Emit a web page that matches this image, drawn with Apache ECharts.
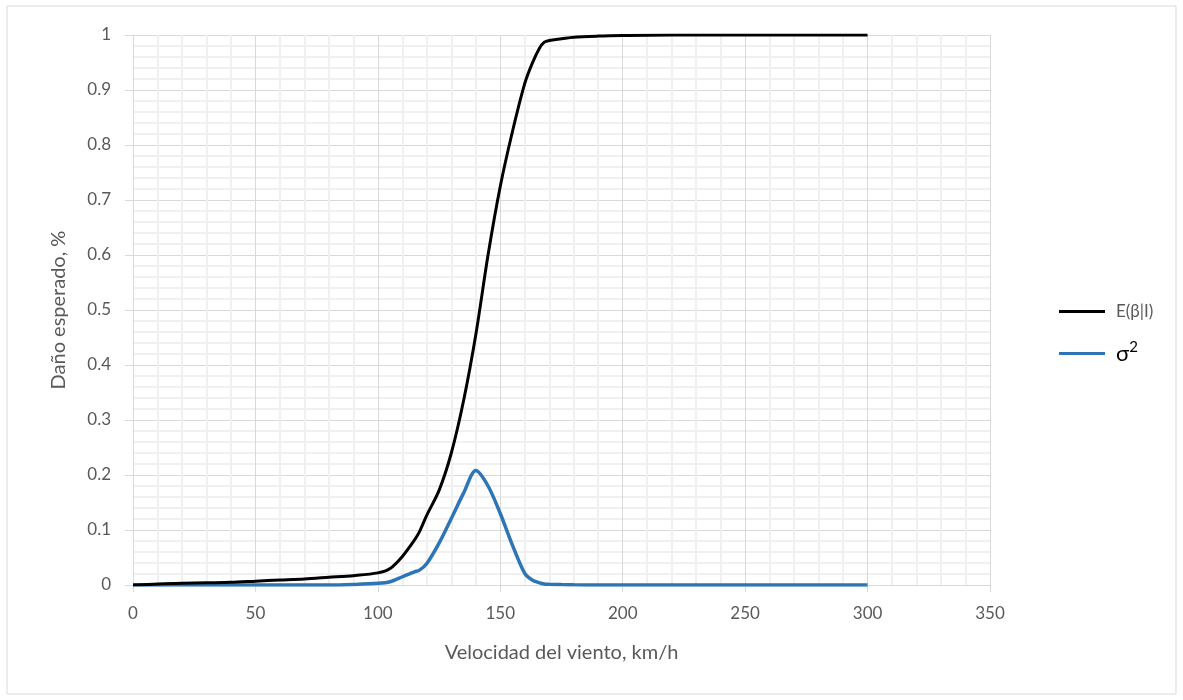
<!DOCTYPE html>
<html>
<head>
<meta charset="utf-8">
<script src="https://cdn.jsdelivr.net/npm/echarts@6/dist/echarts.min.js"></script>
<style>
  html, body { margin: 0; padding: 0; background: #fff; }
  #chart { width: 1183px; height: 700px; }
</style>
</head>
<body>
<div id="chart"></div>
<script>
// wind speed (km/h)
const speeds = [0, 10, 20, 30, 40, 50, 60, 70, 80, 90, 100, 105, 110, 115, 117, 120, 125, 130, 135, 140, 145, 150, 155, 160, 163, 166, 168, 170, 175, 180, 190, 200, 220, 250, 300];
// E(beta|I)
const expectedDamage = [0, 0.002, 0.003, 0.004, 0.005, 0.007, 0.009, 0.011, 0.014, 0.017, 0.022, 0.03, 0.052, 0.082, 0.097, 0.127, 0.172, 0.24, 0.335, 0.455, 0.6, 0.725, 0.825, 0.912, 0.948, 0.976, 0.987, 0.99, 0.993, 0.996, 0.998, 0.999, 1, 1, 1];
// sigma^2
const variance = [0, 0, 0, 0, 0, 0, 0, 0, 0, 0.001, 0.003, 0.006, 0.015, 0.024, 0.027, 0.039, 0.076, 0.121, 0.167, 0.208, 0.18, 0.13, 0.072, 0.021, 0.009, 0.004, 0.002, 0.0015, 0.0007, 0.0003, 0, 0, 0, 0, 0];

const xTicks = [0, 50, 100, 150, 200, 250, 300, 350];
const seriesNames = ["E(β|I)", "σ²"];

const toPairs = (ys) => speeds.map((x, i) => [x, ys[i]]);

const font = "Lato, 'Open Sans', sans-serif";
const labelColor = "#595959";

const chart = echarts.init(document.getElementById("chart"));

const option = {
  animation: false,
  backgroundColor: "#fff",
  textStyle: { fontFamily: font },
  graphic: [
    {
      type: "rect",
      shape: { x: 7, y: 6, width: 1169, height: 688 },
      style: { fill: "none", stroke: "#d9d9d9", lineWidth: 1 },
      silent: true,
    },
  ],
  grid: { left: 133, right: 193, top: 35, bottom: 115, containLabel: false },
  legend: {
    orient: "vertical",
    left: 1054,
    top: 298,
    itemWidth: 46,
    itemHeight: 3,
    itemGap: 20,
    icon: "rect",
    data: [seriesNames[0], seriesNames[1]],
    formatter: (name) => (name === seriesNames[1] ? "{s|σ}{p|2}" : "{e|" + name + "}"),
    textStyle: {
      fontFamily: font,
      padding: [0, 0, 0, 6],
      rich: {
        e: { fontSize: 17, color: labelColor, fontFamily: font, letterSpacing: 1.5 },
        s: { fontSize: 22, color: "#000", fontFamily: font },
        p: { fontSize: 15, color: "#000", fontFamily: font, padding: [0, 0, 12, 0] },
      },
    },
  },
  xAxis: {
    type: "value",
    min: 0,
    max: 350,
    interval: 50,
    name: "Velocidad del viento, km/h",
    nameLocation: "middle",
    nameGap: 58,
    nameTextStyle: { fontSize: 20, color: labelColor, fontFamily: font },
    axisLine: { show: true, lineStyle: { color: "#d9d9d9", width: 1 } },
    axisTick: { show: true, length: 7, lineStyle: { color: "#d9d9d9" } },
    axisLabel: {
      color: labelColor,
      fontSize: 17,
      margin: 20,
      formatter: (v) => (xTicks.includes(v) ? String(v) : ""),
    },
    splitLine: { show: true, lineStyle: { color: "#d9d9d9", width: 1 } },
    minorTick: { show: false, splitNumber: 5 },
    minorSplitLine: { show: true, lineStyle: { color: "#f0f0f0", width: 2 } },
  },
  yAxis: {
    type: "value",
    min: 0,
    max: 1,
    interval: 0.1,
    name: "Daño esperado, %",
    nameLocation: "middle",
    nameGap: 64,
    nameTextStyle: { fontSize: 20, color: labelColor, fontFamily: font },
    axisLine: { show: true, lineStyle: { color: "#d9d9d9", width: 1 } },
    axisTick: { show: true, length: 8, lineStyle: { color: "#d9d9d9" } },
    axisLabel: {
      color: labelColor,
      fontSize: 17,
      margin: 22,
      formatter: (v) => String(Math.round(v * 10) / 10),
    },
    splitLine: { show: true, lineStyle: { color: "#d9d9d9", width: 1 } },
    minorTick: { show: false, splitNumber: 5 },
    minorSplitLine: { show: true, lineStyle: { color: "#f0f0f0", width: 2 } },
  },
  series: [
    {
      name: seriesNames[0],
      type: "line",
      data: toPairs(expectedDamage),
      smooth: 0.3,
      showSymbol: false,
      color: "#000000",
      lineStyle: { width: 3, color: "#000000" },
      z: 3,
    },
    {
      name: seriesNames[1],
      type: "line",
      data: toPairs(variance),
      smooth: 0.3,
      showSymbol: false,
      color: "#2e75b6",
      lineStyle: { width: 3.5, color: "#2e75b6" },
      z: 2,
    },
  ],
};

chart.setOption(option);
</script>
</body>
</html>
